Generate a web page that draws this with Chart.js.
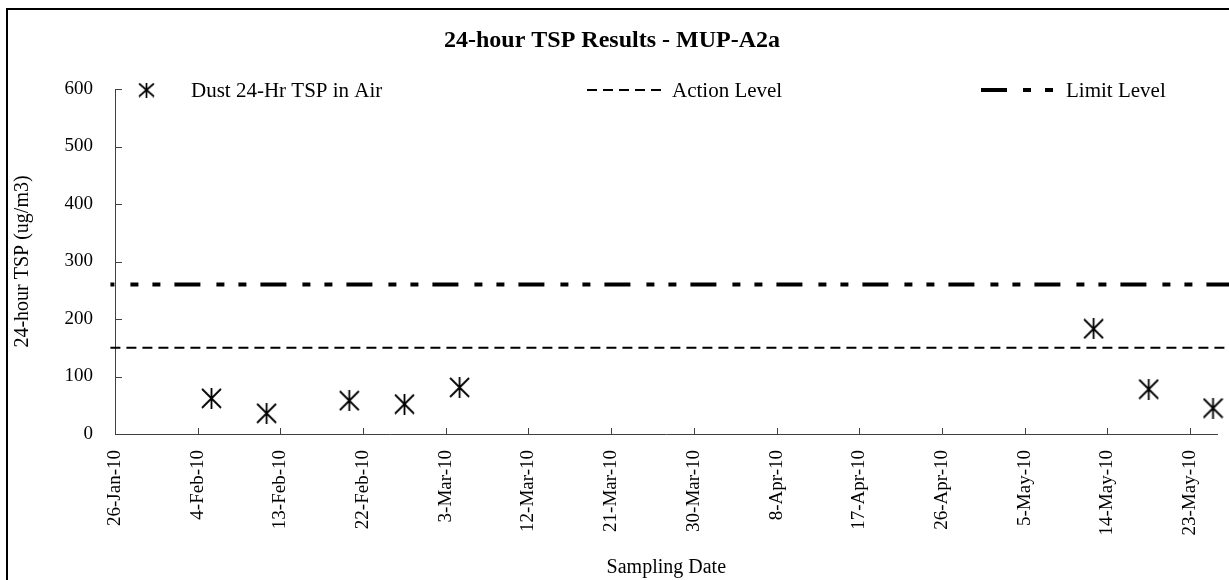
<!DOCTYPE html>
<html>
<head>
<meta charset="utf-8">
<script src="https://cdn.jsdelivr.net/npm/chart.js@4.4.0/dist/chart.umd.min.js"></script>
<style>
  html, body { margin: 0; padding: 0; background: #fff; }
  #wrap { position: relative; width: 1229px; height: 580px; overflow: hidden; }
  #frame { position: absolute; left: 6px; top: 8px; width: 1300px; height: 700px;
           border: 2px solid #000; box-sizing: border-box; pointer-events: none; }
  #chart { position: absolute; left: 0; top: 0; }
</style>
</head>
<body>
<div id="wrap">
  <div id="frame"></div>
  <canvas id="chart" width="1229" height="580"></canvas>
</div>
<script>
const chartTitle = "24-hour TSP Results - MUP-A2a";
const xTitle = "Sampling Date";
const yTitle = "24-hour TSP (ug/m3)";

// sampling dates and 24-hr TSP readings (ug/m3)
const sampleDates = ["2010-02-05", "2010-02-11", "2010-02-20", "2010-02-26", "2010-03-04",
                     "2010-05-12", "2010-05-18", "2010-05-25"];
const tspValues = [62, 36, 58, 52, 81, 183, 78, 45];

// criteria lines
const levelDates = ["2010-01-25", "2010-06-01"];
const actionLevel = 150;
const limitLevel = 260;

// axes
const axisStart = "2010-01-26";
const axisEnd = "2010-05-26";
const tickLabels = ["26-Jan-10", "4-Feb-10", "13-Feb-10", "22-Feb-10", "3-Mar-10", "12-Mar-10",
                    "21-Mar-10", "30-Mar-10", "8-Apr-10", "17-Apr-10", "26-Apr-10", "5-May-10",
                    "14-May-10", "23-May-10"];
const yMin = 0, yMax = 600, yStep = 100;

const MONTHS = ["Jan","Feb","Mar","Apr","May","Jun","Jul","Aug","Sep","Oct","Nov","Dec"];
const DAY = 86400000;
const t0 = Date.parse(axisStart);
const dayOf = iso => (Date.parse(iso) - t0) / DAY;
function labelToDay(lbl) {
  const [d, m, y] = lbl.split("-");
  const t = Date.UTC(2000 + Number(y), MONTHS.indexOf(m), Number(d));
  return (t - t0) / DAY;
}

function makeStar(w, h, lw) {
  const c = document.createElement("canvas");
  c.width = w; c.height = h;
  const g = c.getContext("2d");
  g.strokeStyle = "#000";
  g.lineWidth = lw;
  g.beginPath();
  g.moveTo(w / 2, 0); g.lineTo(w / 2, h);
  g.moveTo(1, 1); g.lineTo(w - 1, h - 1);
  g.moveTo(w - 1, 1); g.lineTo(1, h - 1);
  g.stroke();
  return c;
}
const star = makeStar(21, 21, 1.8);
const legendStar = makeStar(17, 15, 1.7);

Chart.defaults.font.family = '"Liberation Serif", "Times New Roman", serif';
Chart.defaults.color = "#000";

// Excel-style legend laid over the plot area
const legendLayout = { y: 90, sampleWidth: 74, font: '21px "Liberation Serif"',
  items: [{ box: 138, text: 191 }, { box: 587, text: 672 }, { box: 981, text: 1066 }] };

const overlayLegend = {
  id: "overlayLegend",
  afterDraw(chart) {
    const ctx = chart.ctx;
    ctx.save();
    chart.data.datasets.forEach((ds, i) => {
      const slot = legendLayout.items[i];
      const y = legendLayout.y;
      if (ds.showLine) {
        ctx.beginPath();
        ctx.strokeStyle = ds.borderColor;
        ctx.lineWidth = ds.borderWidth;
        ctx.setLineDash(ds.borderDash || []);
        ctx.lineDashOffset = 0;
        ctx.moveTo(slot.box, y);
        ctx.lineTo(slot.box + legendLayout.sampleWidth, y);
        ctx.stroke();
        ctx.setLineDash([]);
      } else {
        ctx.drawImage(legendStar, slot.box, y - legendStar.height / 2);
      }
      ctx.fillStyle = "#000";
      ctx.font = legendLayout.font;
      ctx.textBaseline = "middle";
      ctx.textAlign = "left";
      ctx.fillText(ds.label, slot.text, y + 1);
    });
    ctx.restore();
  }
};

// short tick marks pointing into the plot area
const insideTicks = {
  id: "insideTicks",
  afterDraw(chart) {
    const { ctx, chartArea, scales } = chart;
    ctx.save();
    ctx.strokeStyle = "#404040";
    ctx.lineWidth = 1;
    ctx.beginPath();
    scales.x.ticks.forEach(t => {
      const px = Math.round(scales.x.getPixelForValue(t.value)) + 0.5;
      ctx.moveTo(px, chartArea.bottom);
      ctx.lineTo(px, chartArea.bottom - 6);
    });
    scales.y.ticks.forEach(t => {
      const py = Math.round(scales.y.getPixelForValue(t.value)) + 0.5;
      ctx.moveTo(chartArea.left, py);
      ctx.lineTo(chartArea.left + 7, py);
    });
    ctx.stroke();
    ctx.restore();
  }
};

new Chart(document.getElementById("chart"), {
  type: "scatter",
  data: {
    datasets: [
      {
        label: "Dust 24-Hr TSP in Air",
        data: sampleDates.map((d, i) => ({ x: dayOf(d) + 0.5, y: tspValues[i] })),
        showLine: false,
        pointStyle: star,
        borderColor: "#000",
        backgroundColor: "#000",
        clip: false
      },
      {
        label: "Action Level",
        data: levelDates.map(d => ({ x: dayOf(d) + 0.5, y: actionLevel })),
        showLine: true,
        borderColor: "#000",
        borderWidth: 2,
        borderDash: [10, 6],
        pointRadius: 0,
        clip: false
      },
      {
        label: "Limit Level",
        data: levelDates.map(d => ({ x: dayOf(d) + 0.5, y: limitLevel })),
        showLine: true,
        borderColor: "#000",
        borderWidth: 4,
        borderDash: [26, 16, 8, 14, 8, 14],
        borderDashOffset: 22,
        pointRadius: 0,
        clip: false
      }
    ]
  },
  options: {
    responsive: false,
    animation: false,
    layout: { padding: { left: 0, right: 5, top: 0, bottom: 0 } },
    plugins: {
      legend: { display: false },
      tooltip: { enabled: false },
      title: {
        display: true,
        text: chartTitle,
        font: { size: 24, weight: "bold" },
        padding: { top: 26.6, bottom: 33.6 }
      }
    },
    scales: {
      x: {
        type: "linear",
        min: 0,
        max: dayOf(axisEnd),
        afterBuildTicks: s => { s.ticks = tickLabels.map(l => ({ value: labelToDay(l) })); },
        afterFit: s => { s.height = 146; },
        ticks: {
          autoSkip: false,
          minRotation: 90,
          maxRotation: 90,
          padding: 16,
          font: { size: 19 },
          callback: (v, i) => tickLabels[i]
        },
        grid: { drawOnChartArea: false, drawTicks: false },
        border: { color: "#404040", width: 1 },
        title: { display: true, text: xTitle, font: { size: 20 }, padding: { top: 0, bottom: 0 } }
      },
      y: {
        min: yMin,
        max: yMax,
        afterFit: s => { s.width = 115; },
        ticks: { stepSize: yStep, padding: 22, font: { size: 19 } },
        grid: { drawOnChartArea: false, drawTicks: false },
        border: { color: "#404040", width: 1 },
        title: { display: true, text: yTitle, font: { size: 20 }, padding: { top: 11, bottom: 0 } }
      }
    }
  },
  plugins: [overlayLegend, insideTicks]
});
</script>
</body>
</html>
